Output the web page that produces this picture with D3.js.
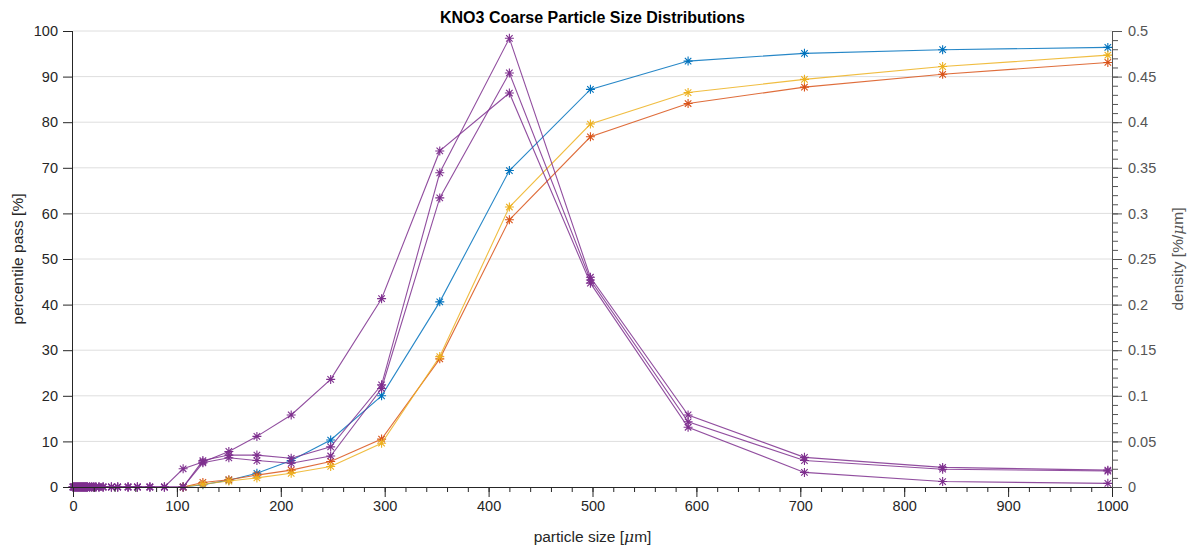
<!DOCTYPE html>
<html>
<head>
<meta charset="utf-8">
<script src="https://cdn.jsdelivr.net/npm/d3@7"></script>
<style>
  html, body { margin: 0; padding: 0; background: #fff; }
  svg { display: block; font-family: "Liberation Sans", Arial, Helvetica, sans-serif; }
</style>
</head>
<body>
<svg id="chart" width="1187" height="549"></svg>
<script>
// Sieve openings (µm) used by the cumulative curves
const sieveSizes = [106, 125, 150, 177, 210, 248, 297, 353, 420, 498, 592, 704, 837, 996];
// Fine bins of the density curves (all empty)
const fineSizes = [1, 2, 3, 4, 5, 6, 7, 8, 9, 10, 11, 12, 13, 14, 16, 18, 20, 22, 25, 29, 37, 43, 53, 62, 74, 88];

// Cumulative percentile passing [%]
const passBlue   = [0, 0.5, 1.5, 3.0, 5.8, 10.3, 20.0, 40.6, 69.4, 87.2, 93.4, 95.1, 95.9, 96.4];
const passRed    = [0, 1.0, 1.6, 2.6, 3.7, 5.6, 10.5, 28.1, 58.6, 76.8, 84.1, 87.7, 90.5, 93.1];
const passYellow = [0, 0.6, 1.3, 2.0, 3.0, 4.5, 9.6, 28.6, 61.4, 79.6, 86.5, 89.4, 92.2, 94.7];

// Size densities [%/µm] at the sieve openings
const densityA = [0.020, 0.0275, 0.039, 0.0555, 0.079, 0.118, 0.2065, 0.3685, 0.432, 0.2235, 0.0655, 0.016, 0.006, 0.004];
const densityB = [0, 0.029, 0.035, 0.035, 0.0315, 0.044, 0.112, 0.3445, 0.492, 0.230, 0.079, 0.0325, 0.0215, 0.0185];
const densityC = [0, 0.0265, 0.032, 0.029, 0.026, 0.034, 0.108, 0.317, 0.454, 0.227, 0.0715, 0.029, 0.0195, 0.0175];

const xTicks = [0, 100, 200, 300, 400, 500, 600, 700, 800, 900, 1000];
const yLeftTicks = [0, 10, 20, 30, 40, 50, 60, 70, 80, 90, 100];
const yRightTicks = [0, 0.05, 0.1, 0.15, 0.2, 0.25, 0.3, 0.35, 0.4, 0.45, 0.5];

const colors = { blue: "#0072BD", red: "#D95319", yellow: "#EDB120", purple: "#7E2F8E" };

const svg = d3.select("#chart");
const plot = { left: 73, right: 1112, top: 31, bottom: 487 };

const x = d3.scaleLinear().domain([0, 1000]).range([plot.left, plot.right]);
const yL = d3.scaleLinear().domain([0, 100]).range([plot.bottom, plot.top]);
const yR = d3.scaleLinear().domain([0, 0.5]).range([plot.bottom, plot.top]);

// horizontal grid
svg.append("g")
  .selectAll("line").data(yLeftTicks.filter(d => d > 0)).join("line")
  .attr("x1", plot.left).attr("x2", plot.right)
  .attr("y1", d => yL(d)).attr("y2", d => yL(d))
  .attr("stroke", "#dedede").attr("stroke-width", 1);

// asterisk marker (MATLAB '*')
const r = 4.5, k = r * 0.72;
const star = `M${-r},0H${r}M0,${-r}V${r}M${-k},${-k}L${k},${k}M${-k},${k}L${k},${-k}`;

function drawSeries(xs, ys, yScale, color) {
  const pts = xs.map((d, i) => [d, ys[i]]);
  const line = d3.line().x(d => x(d[0])).y(d => yScale(d[1]));
  const g = svg.append("g");
  g.append("path").datum(pts).attr("d", line)
    .attr("fill", "none").attr("stroke", color).attr("stroke-width", 1.1)
    .attr("stroke-opacity", 0.85);
  g.selectAll("path.m").data(pts).join("path").attr("class", "m")
    .attr("d", star)
    .attr("transform", d => `translate(${x(d[0])},${yScale(d[1])})`)
    .attr("fill", "none").attr("stroke", color).attr("stroke-width", 1.1);
}

drawSeries(sieveSizes, passBlue, yL, colors.blue);
drawSeries(sieveSizes, passRed, yL, colors.red);
drawSeries(sieveSizes, passYellow, yL, colors.yellow);

const densX = [0].concat(fineSizes, sieveSizes);
const zeros = [0].concat(fineSizes.map(() => 0));
[densityA, densityB, densityC].forEach(ds => {
  drawSeries(densX, zeros.concat(ds), yR, colors.purple);
});

// axes
const axisColor = "#262626";
const fontSize = 14.5;

const gx = svg.append("g").attr("transform", `translate(0,${plot.bottom})`)
  .call(d3.axisBottom(x).tickValues(d3.range(0, 1001, 20)).tickSize(5).tickFormat(""));
gx.call(g => g.select(".domain").remove());
gx.selectAll("line").attr("stroke", axisColor);
const gxMajor = svg.append("g").attr("transform", `translate(0,${plot.bottom})`)
  .call(d3.axisBottom(x).tickValues(xTicks).tickSize(10).tickPadding(4).tickFormat(d3.format("d")));
gxMajor.select(".domain").attr("d", `M${plot.left},0.5H${plot.right}`).attr("stroke", axisColor);
gxMajor.selectAll("line").attr("stroke", axisColor);
gxMajor.selectAll("text").attr("font-size", fontSize).attr("fill", axisColor)
  .attr("font-family", "Liberation Sans, Arial, sans-serif");

const gyl = svg.append("g").attr("transform", `translate(${plot.left},0)`)
  .call(d3.axisLeft(yL).tickValues(yLeftTicks).tickSize(10).tickPadding(5).tickFormat(d3.format("d")));
gyl.select(".domain").attr("d", `M-0.5,${plot.top}V${plot.bottom}`).attr("stroke", axisColor);
gyl.selectAll("line").attr("stroke", axisColor);
gyl.selectAll("text").attr("font-size", fontSize).attr("fill", axisColor)
  .attr("font-family", "Liberation Sans, Arial, sans-serif");

const rightColor = "#555555";
const gyrMinor = svg.append("g").attr("transform", `translate(${plot.right},0)`)
  .call(d3.axisRight(yR).tickValues(d3.range(0, 51).map(d => d / 100)).tickSize(6).tickFormat(""));
gyrMinor.select(".domain").remove();
gyrMinor.selectAll("line").attr("stroke", rightColor);
const gyr = svg.append("g").attr("transform", `translate(${plot.right},0)`)
  .call(d3.axisRight(yR).tickValues(yRightTicks).tickSize(10).tickPadding(6).tickFormat(d => d3.format("")(+d.toFixed(2))));
gyr.select(".domain").attr("d", `M0.5,${plot.top}V${plot.bottom}`).attr("stroke", rightColor);
gyr.selectAll("line").attr("stroke", rightColor);
gyr.selectAll("text").attr("font-size", fontSize).attr("fill", rightColor)
  .attr("font-family", "Liberation Sans, Arial, sans-serif");

// title and labels
svg.append("text").attr("x", (plot.left + plot.right) / 2).attr("y", 23)
  .attr("text-anchor", "middle").attr("font-size", 16).attr("font-weight", "bold")
  .attr("fill", "#000").text("KNO3 Coarse Particle Size Distributions");

const xl = svg.append("text").attr("x", (plot.left + plot.right) / 2).attr("y", 542)
  .attr("text-anchor", "middle").attr("font-size", 15.5).attr("fill", axisColor);
xl.append("tspan").text("particle size [");
xl.append("tspan").attr("font-style", "italic").attr("font-family", "DejaVu Serif, serif").text("μ");
xl.append("tspan").text("m]");

svg.append("text")
  .attr("transform", `translate(23,${(plot.top + plot.bottom) / 2}) rotate(-90)`)
  .attr("text-anchor", "middle").attr("font-size", 15.5).attr("fill", axisColor)
  .text("percentile pass [%]");

const yr = svg.append("text")
  .attr("transform", `translate(1183,${(plot.top + plot.bottom) / 2}) rotate(-90)`)
  .attr("text-anchor", "middle").attr("font-size", 15.5).attr("fill", rightColor);
yr.append("tspan").text("density [%/");
yr.append("tspan").attr("font-style", "italic").attr("font-family", "DejaVu Serif, serif").text("μ");
yr.append("tspan").text("m]");
</script>
</body>
</html>
